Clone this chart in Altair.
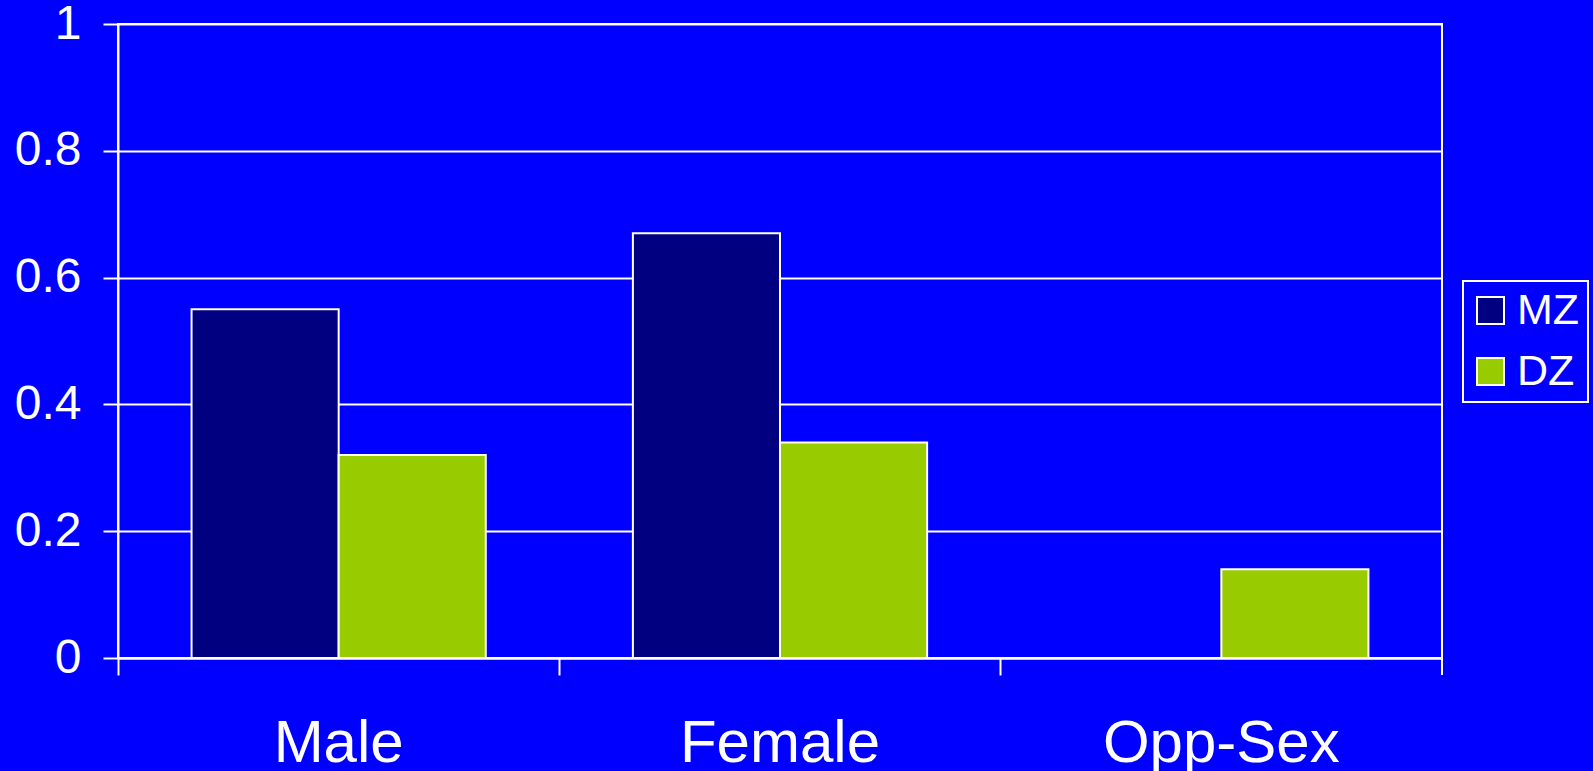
import altair as alt
import pandas as pd

# Twin correlations by sex grouping
groups = ["Male", "Female", "Opp-Sex"]
zygosity = ["MZ", "DZ"]
mz_values = [0.55, 0.67, None]
dz_values = [0.32, 0.34, 0.14]
y_ticks = [0, 0.2, 0.4, 0.6, 0.8, 1]
bar_colors = ["#000080", "#99CC00"]

rows = []
for g, mz, dz in zip(groups, mz_values, dz_values):
    if mz is not None:
        rows.append({"group": g, "zyg": "MZ", "r": mz})
    if dz is not None:
        rows.append({"group": g, "zyg": "DZ", "r": dz})
df = pd.DataFrame(rows)

FONT = "Liberation Sans"
W, H = 1324, 634
LINE = 2

bars = alt.Chart(df).mark_bar(stroke="white", strokeWidth=LINE).encode(
    x=alt.X(
        "group:N",
        sort=groups,
        scale=alt.Scale(domain=groups, paddingInner=0, paddingOuter=0),
        axis=alt.Axis(
            title=None,
            labelAngle=0,
            labelLimit=0,
            bandPosition=0,
            labelColor="white",
            labelFontSize=60,
            labelFont=FONT,
            labelPadding=39,
            tickColor="white",
            tickSize=17,
            tickWidth=LINE,
            domainColor="white",
            domainWidth=LINE,
            grid=False,
        ),
    ),
    xOffset=alt.XOffset(
        "zyg:N",
        sort=zygosity,
        scale=alt.Scale(domain=zygosity, paddingInner=0, paddingOuter=0.5),
    ),
    y=alt.Y(
        "r:Q",
        scale=alt.Scale(domain=[0, 1], nice=False),
        axis=alt.Axis(
            title=None,
            values=y_ticks,
            format="~g",
            labelColor="white",
            labelFontSize=48,
            labelFont=FONT,
            labelPadding=22,
            tickColor="white",
            tickSize=15,
            tickWidth=LINE,
            domainColor="white",
            domainWidth=LINE,
            gridColor="white",
            gridWidth=LINE,
            gridOpacity=1,
        ),
    ),
    color=alt.Color(
        "zyg:N",
        sort=zygosity,
        scale=alt.Scale(domain=zygosity, range=bar_colors),
        legend=alt.Legend(
            title=None,
            orient="none",
            legendX=1345,
            legendY=257,
            symbolType="square",
            symbolSize=729,
            symbolOffset=-2,
            symbolStrokeColor="white",
            symbolStrokeWidth=LINE,
            symbolOpacity=1,
            labelColor="white",
            labelFontSize=43,
            labelFont=FONT,
            labelOffset=5,
            rowPadding=17,
            padding=8,
            strokeColor="white",
        ),
    ),
)

# closing tick under the right edge of the category axis
end_tick = alt.Chart(pd.DataFrame({"k": [0]})).mark_rule(
    color="white", strokeWidth=LINE
).encode(x=alt.value(W), y=alt.value(H), y2=alt.value(H + 17))

chart = (
    alt.layer(bars, end_tick)
    .properties(
        width=W,
        height=H,
        background="#0000FF",
        padding={"left": 118, "top": 24, "right": 151, "bottom": 113},
        autosize=alt.AutoSizeParams(type="none"),
    )
    .configure_view(stroke="white", strokeWidth=LINE)
    .configure_legend(strokeWidth=LINE)
)

chart.save("out.html", embed_options={"renderer": "svg", "actions": False})
